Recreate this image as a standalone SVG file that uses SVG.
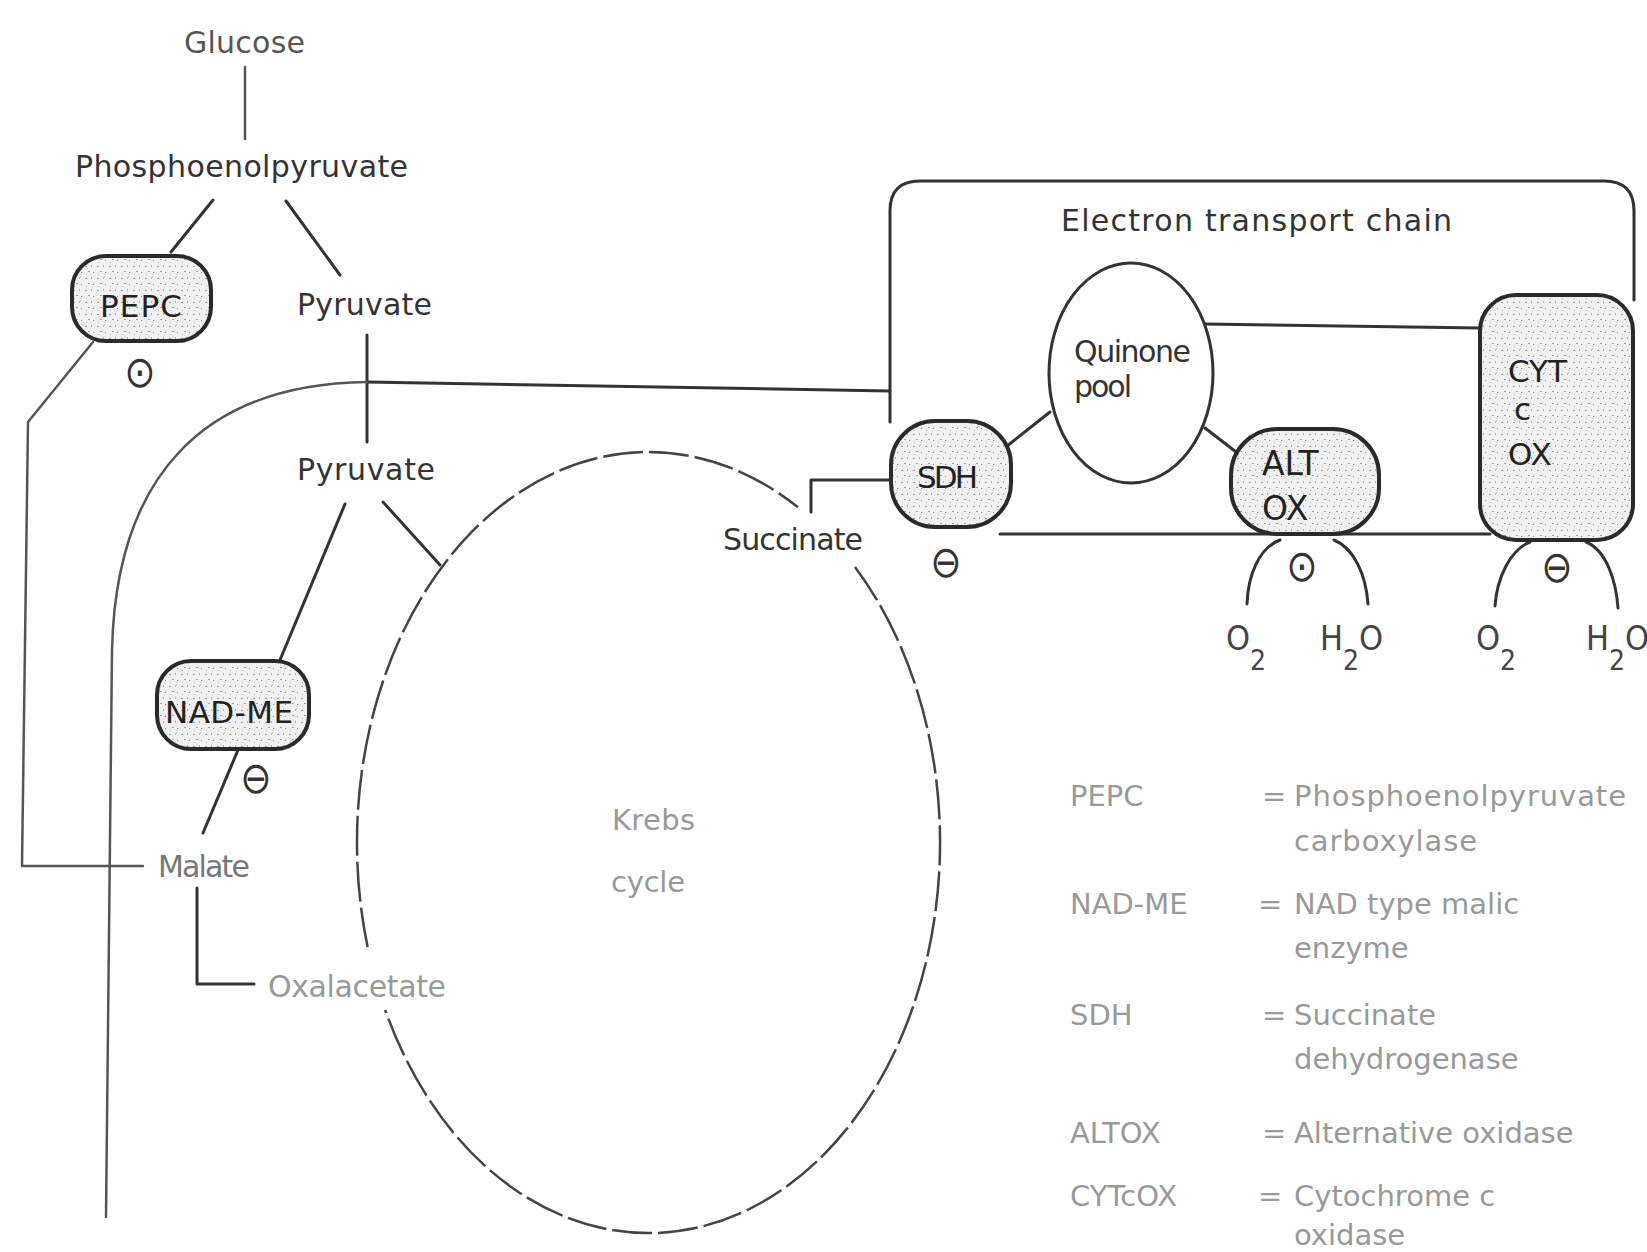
<svg xmlns="http://www.w3.org/2000/svg" width="1647" height="1252" viewBox="0 0 1647 1252">
<style>
.lbl{font-family:"DejaVu Sans","Liberation Sans",sans-serif;font-size:30px;fill:#333}
.box{font-family:"DejaVu Sans","Liberation Sans",sans-serif;font-size:31px;fill:#222}
.faint{font-family:"DejaVu Sans","Liberation Sans",sans-serif;font-size:29px;fill:#999}
.leg{font-family:"DejaVu Sans","Liberation Sans",sans-serif;font-size:29px;fill:#999}
.sym{font-family:"DejaVu Sans",sans-serif;font-size:44px;fill:#333;text-anchor:middle}
.chem{font-family:"DejaVu Sans Condensed","DejaVu Sans","Liberation Sans",sans-serif;font-size:34px;fill:#444}
.ln{fill:none;stroke:#333;stroke-width:3;stroke-linecap:round;stroke-linejoin:round}
.thin{fill:none;stroke:#555;stroke-width:2.5;stroke-linecap:round;stroke-linejoin:round}
.dash{fill:none;stroke:#444;stroke-width:2.5;stroke-dasharray:40 6}
.enz{fill:url(#stip);stroke:#2a2a2a;stroke-width:4}
</style>
<defs>
<pattern id="stip" width="12" height="12" patternUnits="userSpaceOnUse">
<rect width="12" height="12" fill="#f0f0f0"/>
<rect x="1" y="2" width="2" height="1" fill="#9a9a9a"/>
<rect x="7" y="1" width="1" height="2" fill="#b0b0b0"/>
<rect x="4" y="7" width="2" height="1" fill="#a0a0a0"/>
<rect x="9" y="8" width="1" height="1" fill="#888"/>
<rect x="2" y="10" width="1" height="1" fill="#bbb"/>
</pattern>
</defs>
<rect width="1647" height="1252" fill="#fff"/>

<g id="connectors">
<path class="thin" d="M245 67 V139"/>
<path class="ln" d="M213 200 L171 252"/>
<path class="ln" d="M286 201 L340 275"/>
<path class="thin" d="M93 342 L28 422 L22 866 L143 866"/>
<path class="ln" d="M367 335 V442"/>
<path class="ln" d="M367 382 L890 391"/>
<path class="thin" d="M367 382 C200 384 116 480 112 650 L106 1217"/>
<path class="ln" d="M345 504 L280 660"/>
<path class="ln" d="M238 750 L203 833"/>
<path class="ln" d="M383 502 L440 565"/>
<path class="ln" d="M197 888 V984 H254"/>
<path class="ln" d="M811 512 V480 H891"/>
<path class="ln" d="M1050 412 L1007 446"/>
<path class="ln" d="M1205 428 L1240 455"/>
<path class="ln" d="M1204 324 L1480 328"/>
<path class="ln" d="M1280 540 C1259 548 1248 575 1247 604"/>
<path class="ln" d="M1334 540 C1354 548 1366 575 1368 604"/>
<path class="ln" d="M1530 542 C1510 550 1497 578 1495 606"/>
<path class="ln" d="M1586 542 C1606 550 1616 580 1618 608"/>
</g>

<g id="krebs-cycle">
<path class="dash" d="M855 566.9 A291.5 390.5 0 1 1 385.2 1010"/>
<path class="dash" d="M367.6 947 A291.5 390.5 0 0 1 798 507.3"/>
<text class="faint" x="612" y="830" textLength="83">Krebs</text>
<text class="faint" x="611" y="892" textLength="74">cycle</text>
</g>

<g id="etc">
<path class="ln" d="M890 422 V211 Q890 181 920 181 H1604 Q1634 181 1634 211 V300"/>
<path class="ln" d="M1000 534 H1490"/>
<text class="lbl" x="1061" y="231" textLength="391">Electron transport chain</text>
</g>

<g id="glucose"><text class="lbl" x="184" y="53" textLength="121" style="fill:#555">Glucose</text></g>
<g id="pep"><text class="lbl" x="75" y="177" textLength="333">Phosphoenolpyruvate</text></g>
<g id="pyruvate1"><text class="lbl" x="297" y="315" textLength="135">Pyruvate</text></g>
<g id="pyruvate2"><text class="lbl" x="297" y="480" textLength="138">Pyruvate</text></g>
<g id="succinate"><text class="lbl" x="723" y="550" textLength="140">Succinate</text></g>
<g id="malate"><text class="lbl" x="158" y="877" textLength="92" style="fill:#777">Malate</text></g>
<g id="oxalacetate"><text class="lbl" x="268" y="997" textLength="178" style="fill:#999">Oxalacetate</text></g>

<g id="pepc">
<rect class="enz" x="72" y="256" width="139" height="85" rx="34"/>
<text class="box" x="100" y="317" textLength="82">PEPC</text>
<text class="sym" transform="translate(140 372) scale(0.85 1)" x="0" y="15">⊙</text>
</g>
<g id="nad-me">
<rect class="enz" x="157" y="661" width="152" height="88" rx="34"/>
<text class="box" x="165" y="723" textLength="128">NAD-ME</text>
<text class="sym" transform="translate(256 778) scale(0.85 1)" x="0" y="15">⊖</text>
</g>
<g id="quinone-pool">
<ellipse cx="1131" cy="373" rx="82" ry="110" fill="#fff" stroke="#333" stroke-width="3"/>
<text class="lbl" x="1074" y="362" textLength="117">Quinone</text>
<text class="lbl" x="1074" y="397" textLength="58">pool</text>
</g>
<g id="sdh">
<rect class="enz" x="891" y="421" width="120" height="106" rx="44"/>
<text class="box" x="917" y="488" textLength="61">SDH</text>
<text class="sym" transform="translate(946 562) scale(0.85 1)" x="0" y="15">⊖</text>
</g>
<g id="alt-ox">
<rect class="enz" x="1231" y="429" width="148" height="105" rx="46"/>
<text class="box" x="1262" y="475" style="font-size:33px">ALT</text>
<text class="box" x="1262" y="520" style="font-size:33px">OX</text>
<text class="sym" transform="translate(1302 566) scale(0.85 1)" x="0" y="15">⊙</text>
<text class="chem" x="1226" y="650">O<tspan font-size="28" dy="20">2</tspan></text>
<text class="chem" x="1320" y="650">H<tspan font-size="28" dy="20">2</tspan><tspan dy="-20">O</tspan></text>
</g>
<g id="cyt-c-ox">
<rect class="enz" x="1480" y="295" width="153" height="245" rx="36"/>
<text class="box" x="1508" y="382">CYT</text>
<text class="box" x="1514" y="420">c</text>
<text class="box" x="1508" y="465">OX</text>
<text class="sym" transform="translate(1557 567) scale(0.85 1)" x="0" y="15">⊖</text>
<text class="chem" x="1476" y="650">O<tspan font-size="28" dy="20">2</tspan></text>
<text class="chem" x="1586" y="650">H<tspan font-size="28" dy="20">2</tspan><tspan dy="-20">O</tspan></text>
</g>

<g id="legend">
<text class="leg" x="1070" y="806">PEPC</text>
<text class="leg" x="1262" y="806">=</text>
<text class="leg" x="1294" y="806" textLength="332">Phosphoenolpyruvate</text>
<text class="leg" x="1294" y="851" textLength="183">carboxylase</text>
<text class="leg" x="1070" y="914">NAD-ME</text>
<text class="leg" x="1258" y="914">=</text>
<text class="leg" x="1294" y="914">NAD type malic</text>
<text class="leg" x="1294" y="958">enzyme</text>
<text class="leg" x="1070" y="1025">SDH</text>
<text class="leg" x="1262" y="1025">=</text>
<text class="leg" x="1294" y="1025">Succinate</text>
<text class="leg" x="1294" y="1069">dehydrogenase</text>
<text class="leg" x="1070" y="1143">ALTOX</text>
<text class="leg" x="1262" y="1143">=</text>
<text class="leg" x="1294" y="1143">Alternative oxidase</text>
<text class="leg" x="1070" y="1206">CYTcOX</text>
<text class="leg" x="1258" y="1206">=</text>
<text class="leg" x="1294" y="1206">Cytochrome c</text>
<text class="leg" x="1294" y="1245">oxidase</text>
</g>
</svg>
